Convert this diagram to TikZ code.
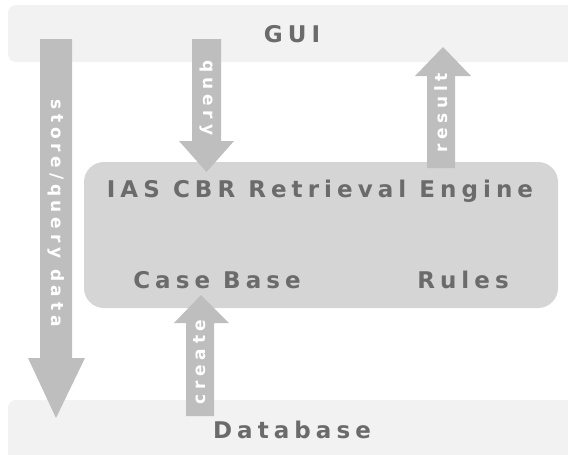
\documentclass[tikz,border=0pt]{standalone}
\usepackage{fontspec}
\newfontfamily\lblfont{DejaVu Sans}[LetterSpace=22]
\newfontfamily\arrfont{DejaVu Sans}[LetterSpace=28]
\definecolor{bandgray}{HTML}{F2F2F2}
\definecolor{boxgray}{HTML}{D5D5D5}
\definecolor{arrowgray}{HTML}{BEBEBE}
\definecolor{textgray}{HTML}{6B6B6B}
\tikzset{
  band/.style={fill=bandgray, draw=none, rounded corners=8pt},
  enginebox/.style={fill=boxgray, draw=none, rounded corners=20pt},
  blockarrow/.style={fill=arrowgray, draw=none},
  bigtext/.style={font=\lblfont\bfseries\fontsize{23}{27}\selectfont, text=textgray, inner sep=0pt},
  arrowtext/.style={font=\arrfont\bfseries\fontsize{17}{20}\selectfont, text=white, inner sep=0pt},
}
\begin{document}
\begin{tikzpicture}[x=1pt,y=-1pt]
\useasboundingbox (0,0) rectangle (568,455);
\clip (0,0) rectangle (568,455);
% bands and engine box
\path[band] (8,5) rectangle (590,62);
\coordinate (gui) at (292,34);
\path[band] (8,400) rectangle (590,470);
\coordinate (db) at (292,430);
\path[enginebox] (84,162) rectangle (558,308);
% arrows
\path[blockarrow] (40,39) -- (72,39) -- (72,358) -- (85,358) -- (56,418) -- (28,358) -- (40,358) -- cycle;
\path[blockarrow] (192,39) -- (221,39) -- (221,141) -- (234,141) -- (206.5,172) -- (179,141) -- (192,141) -- cycle;
\path[blockarrow] (427,168) -- (455,168) -- (455,76) -- (471,76) -- (443,47) -- (415,76) -- (427,76) -- cycle;
\path[blockarrow] (186,416) -- (214,416) -- (214,323) -- (229,323) -- (201,295) -- (174,323) -- (186,323) -- cycle;
% texts
\node[bigtext] (guit) at (gui) {GUI};
\node[bigtext] (dbt) at (db) {Database};
\node[bigtext] (eng) at (320,191.5) {IAS CBR Retrieval Engine};
\node[bigtext] (cb) at (217,280) {Case Base};
\node[bigtext] (rules) at (463,280) {Rules};
\node[arrowtext, rotate=-90] (sq) at (56,213) {store/query data};
\node[arrowtext, rotate=-90] (q) at (206.5,98) {query};
\node[arrowtext, rotate=90] (res) at (441,113) {result};
\node[arrowtext, rotate=90] (cr) at (200,362) {create};
\end{tikzpicture}
\end{document}
